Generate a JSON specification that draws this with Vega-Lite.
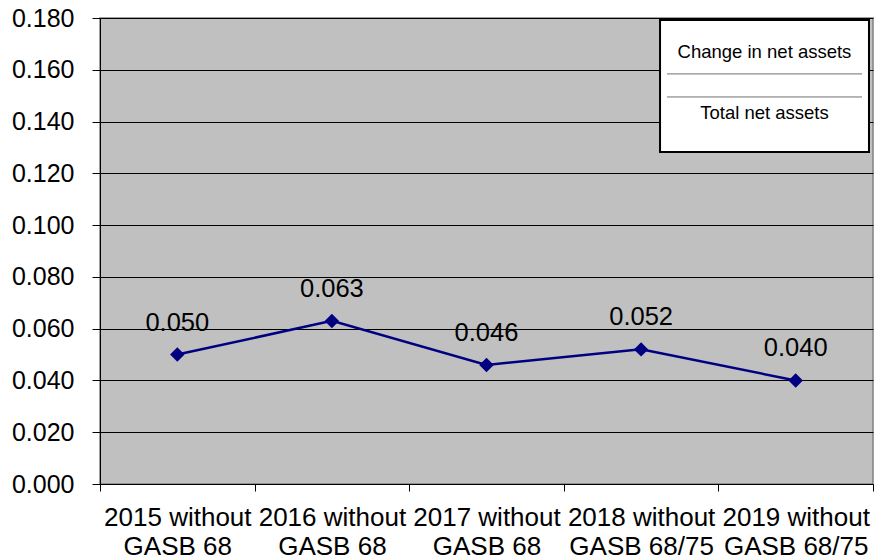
{
  "$schema": "https://vega.github.io/schema/vega-lite/v6.json",
  "width": 773,
  "height": 466,
  "autosize": "none",
  "padding": {"left": 100, "top": 18, "right": 3, "bottom": 75},
  "background": "white",
  "config": {
    "font": "Liberation Sans",
    "view": {"fill": "#C0C0C0", "stroke": "#808080", "strokeWidth": 1.5}
  },
  "datasets": {
    "ratio": [
      {"period": "2015 without GASB 68", "value": 0.050},
      {"period": "2016 without GASB 68", "value": 0.063},
      {"period": "2017 without GASB 68", "value": 0.046},
      {"period": "2018 without GASB 68/75", "value": 0.052},
      {"period": "2019 without GASB 68/75", "value": 0.040}
    ],
    "boxFrame": [
      {"bx": 0.7245, "bx2": 0.9948, "by": 0.1792, "by2": 0.1282}
    ],
    "boxRules": [
      {"bx": 0.7335, "bx2": 0.9858, "by": 0.1584},
      {"bx": 0.7335, "bx2": 0.9858, "by": 0.1495}
    ],
    "boxText": [
      {"bx": 0.8596, "by": 0.1669, "label": "Change in net assets"},
      {"bx": 0.8596, "by": 0.1433, "label": "Total net assets"}
    ]
  },
  "layer": [
    {
      "data": {"name": "ratio"},
      "encoding": {
        "x": {
          "field": "period",
          "type": "nominal",
          "sort": null,
          "scale": {"type": "band", "paddingInner": 0, "paddingOuter": 0},
          "axis": {
            "title": null,
            "labelAngle": 0,
            "tickBand": "extent",
            "tickSize": 7,
            "tickColor": "#000000",
            "domainColor": "#000000",
            "labelFontSize": 26,
            "labelColor": "#000000",
            "labelPadding": 13,
            "labelLineHeight": 29,
            "labelBaseline": "top",
            "labelLimit": 0,
            "labelOverlap": false,
            "labelExpr": "[slice(datum.label, 0, 12), slice(datum.label, 13)]"
          }
        },
        "y": {
          "field": "value",
          "type": "quantitative",
          "scale": {"domain": [0, 0.18], "nice": false, "zero": true},
          "axis": {
            "title": null,
            "values": [0, 0.02, 0.04, 0.06, 0.08, 0.1, 0.12, 0.14, 0.16, 0.18],
            "format": ".3f",
            "tickSize": 8,
            "tickColor": "#000000",
            "domainColor": "#000000",
            "labelFontSize": 25,
            "labelColor": "#000000",
            "labelPadding": 18,
            "grid": true,
            "gridColor": "#000000",
            "gridWidth": 1
          }
        }
      },
      "layer": [
        {
          "mark": {
            "type": "line",
            "color": "#000080",
            "strokeWidth": 2.5,
            "point": {"shape": "diamond", "size": 210, "filled": true, "color": "#000080", "opacity": 1}
          }
        },
        {
          "mark": {"type": "text", "dy": -24, "fontSize": 25.5, "baseline": "alphabetic", "align": "center", "color": "#000000"},
          "encoding": {"text": {"field": "value", "type": "quantitative", "format": ".3f"}}
        }
      ]
    },
    {
      "data": {"name": "boxFrame"},
      "mark": {"type": "rect", "fill": "white", "stroke": "#000000", "strokeWidth": 2},
      "encoding": {
        "x": {"field": "bx", "type": "quantitative", "scale": {"domain": [0, 1]}, "axis": null},
        "x2": {"field": "bx2"},
        "y": {"field": "by", "type": "quantitative"},
        "y2": {"field": "by2"}
      }
    },
    {
      "data": {"name": "boxRules"},
      "mark": {"type": "rule", "stroke": "#707070", "strokeWidth": 1},
      "encoding": {
        "x": {"field": "bx", "type": "quantitative", "scale": {"domain": [0, 1]}, "axis": null},
        "x2": {"field": "bx2"},
        "y": {"field": "by", "type": "quantitative"}
      }
    },
    {
      "data": {"name": "boxText"},
      "mark": {"type": "text", "fontSize": 18.5, "baseline": "middle", "align": "center", "color": "#000000"},
      "encoding": {
        "x": {"field": "bx", "type": "quantitative", "scale": {"domain": [0, 1]}, "axis": null},
        "y": {"field": "by", "type": "quantitative"},
        "text": {"field": "label"}
      }
    }
  ],
  "resolve": {"scale": {"x": "independent"}, "axis": {"x": "independent"}}
}
